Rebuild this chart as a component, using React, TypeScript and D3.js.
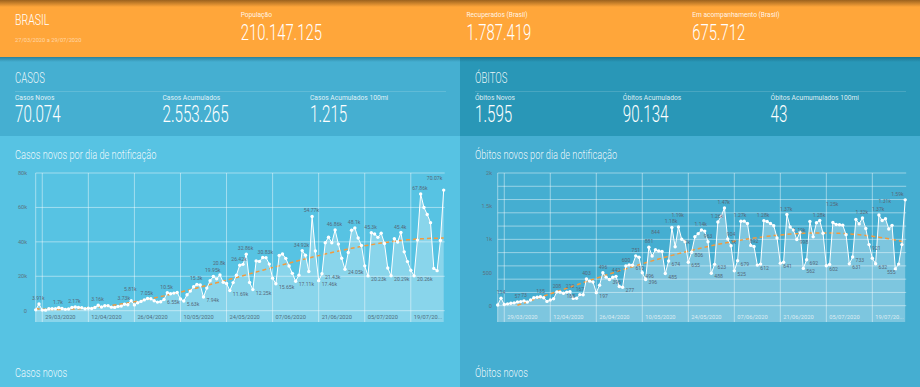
import * as d3 from 'd3'

// dias de notificação: 27/03/2020 a 29/07/2020
const days = d3.timeDay.range(new Date(2020, 2, 27), new Date(2020, 6, 30))

const casosNovos = [
  500, 3910, 350, 320, 1140, 1120, 1210, 1700, 1300, 770,
  1030, 1870, 2170, 1930, 1780, 1090, 1440, 1260, 1830, 3160,
  2110, 2900, 2920, 2060, 1930, 2500, 2680, 3730, 3500, 5810,
  3380, 4610, 5390, 6280, 7050, 6900, 5800, 5000, 5200, 6550,
  10500, 9890, 10220, 10610, 6760, 5630, 9260, 11390, 13940, 15300,
  14920, 7940, 13140, 17410, 19950, 18510, 20800, 16510, 15810, 11690,
  16320, 20600, 26420, 26930, 32860, 16410, 12250, 28940, 28630, 30930,
  30830, 27080, 18910, 15650, 32090, 32910, 30410, 25980, 21700, 17110,
  20650, 34920, 32190, 22770, 54770, 34670, 17460, 21430, 39440, 42730,
  39480, 46860, 38690, 30480, 24050, 33850, 46710, 48100, 42220, 37920,
  26050, 20230, 45300, 44570, 42620, 45050, 39020, 24830, 20290, 41860,
  39920, 45400, 34180, 28530, 23530, 20260, 41010, 67860, 59960, 55890,
  51150, 24580, 23280, 40820, 70074,
]

const obitosNovos = [
  10, 114, 18, 28, 38, 42, 57, 62, 73, 55,
  85, 120, 128, 135, 120, 65, 85, 105, 208, 204,
  188, 205, 212, 110, 113, 167, 165, 403, 370, 358,
  197, 310, 496, 430, 396, 428, 442, 290, 277, 600,
  615, 610, 751, 730, 496, 396, 881, 749, 844, 824,
  816, 485, 674, 1179, 888, 1188, 1001, 965, 655, 806,
  1039, 1086, 1140, 1124, 963, 488, 623, 1262, 1349, 1473,
  1005, 904, 525, 679, 1272, 1274, 1239, 909, 892, 612,
  627, 1282, 1269, 1238, 1206, 1022, 641, 654, 1374, 1186,
  1141, 998, 1109, 562, 692, 1270, 1038, 1252, 1284, 1091,
  602, 620, 1254, 1223, 1220, 1214, 1071, 631, 733, 1300,
  1233, 1322, 1163, 921, 716, 632, 1367, 1284, 1311, 1156,
  1211, 555, 627, 921, 1595,
]

// pontos com rótulo
const casosLabelIdx = [1, 7, 12, 19, 27, 29, 34, 39, 40, 45, 49, 51, 54, 56, 59, 62, 64, 66, 70, 73, 79, 81, 84, 86, 87, 91, 94, 97, 101, 102, 108, 111, 115, 117, 124]
const obitosLabelIdx = [1, 6, 8, 13, 18, 20, 22, 25, 27, 30, 32, 34, 36, 38, 39, 41, 42, 44, 45, 46, 48, 51, 52, 53, 55, 56, 58, 59, 62, 64, 65, 66, 67, 69, 70, 71, 72, 73, 74, 78, 79, 81, 86, 88, 89, 91, 93, 94, 98, 100, 102, 107, 108, 111, 113, 115, 116, 118, 121, 124]

const xTickDates = ['29/03/2020', '12/04/2020', '26/04/2020', '10/05/2020', '24/05/2020', '07/06/2020', '21/06/2020', '05/07/2020', '19/07/2020']

const headerLabels = ['População', 'Recuperados (Brasil)', 'Em acompanhamento (Brasil)']
const headerValues = ['210.147.125', '1.787.419', '675.712']

const casosStatLabels = ['Casos Novos', 'Casos Acumulados', 'Casos Acumulados 100mi']
const casosStatValues = ['70.074', '2.553.265', '1.215']
const obitosStatLabels = ['Óbitos Novos', 'Óbitos Acumulados', 'Óbitos Acumumulados 100mi']
const obitosStatValues = ['1.595', '90.134', '43']

const parseTick = d3.timeParse('%d/%m/%Y')

//least squares polynomial trend
function polyTrend(ys: number[], deg: number) {
  const n = ys.length
  const xs = ys.map((_, i) => i / (n - 1))
  const m = deg + 1
  const A = Array.from({ length: m }, () => new Array(m + 1).fill(0))
  for (let i = 0; i < n; i++) {
    for (let r = 0; r < m; r++) {
      for (let c = 0; c < m; c++) A[r][c] += Math.pow(xs[i], r + c)
      A[r][m] += ys[i] * Math.pow(xs[i], r)
    }
  }
  for (let col = 0; col < m; col++) {
    let piv = col
    for (let r = col + 1; r < m; r++) if (Math.abs(A[r][col]) > Math.abs(A[piv][col])) piv = r
    const tmp = A[col]; A[col] = A[piv]; A[piv] = tmp
    for (let r = 0; r < m; r++) {
      if (r === col) continue
      const f = A[r][col] / A[col][col]
      for (let c = col; c <= m; c++) A[r][c] -= f * A[col][c]
    }
  }
  const coef = A.map((row, i) => row[m] / row[i])
  return xs.map(x => coef.reduce((s, c, k) => s + c * Math.pow(x, k), 0))
}

const fmtLabel = (v: number) => v >= 1000 ? `${parseFloat((v / 1000).toFixed(2))}k` : `${v}`
const fmtTick = (v: number) => v >= 1000 ? `${v / 1000}k` : `${v}`

const Cond = ({ x, y, size, children, fill = '#fff', weight = 300, sx = 0.68 }: any) => (
  <text transform={`translate(${x},${y}) scale(${sx},1)`} fontSize={size} fontWeight={weight}
    fill={fill} fontFamily="Roboto">{children}</text>
)

type ChartProps = {
  values: number[]
  labelIdx: number[]
  x0: number
  x1: number
  yTop: number
  yZero: number
  yBottom: number
  max: number
  gridCount: number
  yLabelX: number
  dateColor: string
}

const LABEL_SIZE = 5.8
const LABEL_SX = 0.88

const LineChart = ({ values, labelIdx, x0, x1, yTop, yZero, yBottom, max, gridCount, yLabelX, dateColor }: ChartProps) => {
  const x = d3.scaleTime().domain([days[0], days[days.length - 1]]).range([x0, x1])
  const y = d3.scaleLinear().domain([0, max]).range([yZero, yTop])
  const right = x1 + 1
  const gridColor = 'rgba(255,255,255,0.45)'

  const area = d3.area<number>()
    .x((_, i) => x(days[i]))
    .y0(yBottom)
    .y1(d => y(d))
  const line = d3.line<number>()
    .x((_, i) => x(days[i]))
    .y(d => y(d))
  const trend = polyTrend(values, 3)
  const trendLine = d3.line<number>()
    .defined(d => d >= 0)
    .x((_, i) => x(days[i]))
    .y(d => y(d))

  //place labels, nudging the ones that collide
  const placed: { x0: number; x1: number; y0: number; y1: number }[] = []
  const labels = labelIdx.map(i => {
    const v = values[i]
    const prev = values[Math.max(0, i - 1)]
    const next = values[Math.min(values.length - 1, i + 1)]
    const top = v >= (prev + next) / 2
    const px = x(days[i])
    const py = y(v)
    const txt = fmtLabel(v)
    const w = txt.length * LABEL_SIZE * 0.55 * LABEL_SX
    let lx = top ? px - w / 2 : px + 3
    if (lx + w > right) lx = px - w
    let ly = top ? py - 4 : py + 5
    for (let k = 0; k < 4; k++) {
      const hit = placed.some(b => lx < b.x1 && lx + w > b.x0 && ly - 4.5 < b.y1 && ly > b.y0)
      if (!hit) break
      ly += top ? -6 : 6
    }
    placed.push({ x0: lx, x1: lx + w, y0: ly - 4.5, y1: ly })
    return { i, lx, ly, txt }
  })

  return (
    <g>
      <path d={area(values) || ''} fill="rgba(255,255,255,0.3)" />
      {y.ticks(gridCount).map(t => (
        <line key={'h' + t} x1={x0} x2={right} y1={y(t)} y2={y(t)} stroke={gridColor} strokeWidth={1} />
      ))}
      <line x1={x0} x2={x0} y1={yTop} y2={yBottom} stroke={gridColor} strokeWidth={1} />
      {xTickDates.map(s => {
        const xx = x(parseTick(s) as Date)
        const txt = xx + 3 + 33 > right ? s.slice(0, 8) + '...' : s
        return (
          <g key={s}>
            <line x1={xx} x2={xx} y1={yTop} y2={yBottom} stroke={gridColor} strokeWidth={1} />
            <text x={xx + 3} y={318.5} fontSize={5.7} fill={dateColor} fontFamily="Roboto">{txt}</text>
          </g>
        )
      })}
      {y.ticks(4).map(t => (
        <text key={'l' + t} x={yLabelX} y={y(t) + 2} fontSize={5.6} fill="#5b7482" textAnchor="end" fontFamily="Roboto">{fmtTick(t)}</text>
      ))}
      <path d={trendLine(trend) || ''} fill="none" stroke="#F39A3C" strokeWidth={1.5} strokeDasharray="4 3" />
      <path d={line(values) || ''} fill="none" stroke="#fff" strokeWidth={1} />
      {values.map((v, i) => (
        <circle key={i} cx={x(days[i])} cy={y(v)} r={1.7} fill="#fff" />
      ))}
      {labels.map(l => (
        <text key={l.i} transform={`translate(${l.lx},${l.ly}) scale(${LABEL_SX},1)`} fontSize={LABEL_SIZE}
          fill="#56697a" fontFamily="Roboto">{l.txt}</text>
      ))}
    </g>
  )
}

const App = () => {
  return (
    <div>
      <style>{'body{margin:0}'}</style>
      <svg width={920} height={387} style={{ display: 'block' }}>
        <defs>
          <linearGradient id="topShade" x1="0" y1="0" x2="0" y2="1">
            <stop offset="0" stopColor="#7a4b14" stopOpacity={0.75} />
            <stop offset="1" stopColor="#7a4b14" stopOpacity={0} />
          </linearGradient>
          <linearGradient id="dropShade" x1="0" y1="0" x2="0" y2="1">
            <stop offset="0" stopColor="#0d4a5c" stopOpacity={0.45} />
            <stop offset="1" stopColor="#0d4a5c" stopOpacity={0} />
          </linearGradient>
        </defs>

        {/* panels */}
        <rect x={0} y={57} width={460} height={79} fill="#45AFD1" />
        <rect x={0} y={136} width={460} height={251} fill="#57C3E3" />
        <rect x={460} y={57} width={460} height={79} fill="#2997B7" />
        <rect x={460} y={136} width={460} height={251} fill="#45AED1" />
        <rect x={0} y={57} width={920} height={5} fill="url(#dropShade)" />

        {/* header */}
        <rect x={0} y={0} width={920} height={57} fill="#FFA63A" />
        <rect x={0} y={0} width={920} height={7} fill="url(#topShade)" />
        <Cond x={15} y={25} size={15.5}>BRASIL</Cond>
        <text x={15} y={42} fontSize={5.7} fill="rgba(255,255,255,0.55)" fontFamily="Roboto">27/03/2020 a 29/07/2020</text>
        {headerLabels.map((l, i) => (
          <g key={l}>
            <text x={240.7 + 225.8 * i} y={16.6} fontSize={6.6} fill="rgba(255,255,255,0.9)" fontFamily="Roboto">{l}</text>
            <Cond x={240.7 + 225.8 * i} y={39.5} size={22} sx={0.675}>{headerValues[i]}</Cond>
          </g>
        ))}

        {/* casos */}
        <Cond x={15} y={83.3} size={14} fill="rgba(255,255,255,0.9)">CASOS</Cond>
        <line x1={15} x2={446} y1={91.5} y2={91.5} stroke="rgba(255,255,255,0.15)" />
        {casosStatLabels.map((l, i) => (
          <g key={l}>
            <text x={15 + 147.5 * i} y={100.3} fontSize={6.7} fill="rgba(255,255,255,0.85)" fontFamily="Roboto">{l}</text>
            <Cond x={15 + 147.5 * i} y={122.3} size={23} sx={0.66}>{casosStatValues[i]}</Cond>
          </g>
        ))}
        <Cond x={15} y={159} size={13.6} fill="rgba(255,255,255,0.9)">Casos novos por dia de notificação</Cond>
        <LineChart values={casosNovos} labelIdx={casosLabelIdx} x0={35.7} x1={443.7} yTop={173} yZero={310.7}
          yBottom={322} max={80000} gridCount={4} yLabelX={27} dateColor="#4f6f80" />
        <Cond x={15} y={377} size={13.6} fill="rgba(255,255,255,0.9)">Casos novos</Cond>

        {/* óbitos */}
        <Cond x={475} y={83.3} size={14} fill="rgba(255,255,255,0.9)">ÓBITOS</Cond>
        <line x1={475} x2={906} y1={91.5} y2={91.5} stroke="rgba(255,255,255,0.15)" />
        {obitosStatLabels.map((l, i) => (
          <g key={l}>
            <text x={475 + 147.8 * i} y={100.3} fontSize={6.7} fill="rgba(255,255,255,0.85)" fontFamily="Roboto">{l}</text>
            <Cond x={475 + 147.8 * i} y={122.3} size={23} sx={0.66}>{obitosStatValues[i]}</Cond>
          </g>
        ))}
        <Cond x={475} y={159} size={13.6} fill="rgba(255,255,255,0.9)">Óbitos novos por dia de notificação</Cond>
        <LineChart values={obitosNovos} labelIdx={obitosLabelIdx} x0={497.7} x1={905.2} yTop={173} yZero={305.7}
          yBottom={322} max={2000} gridCount={8} yLabelX={492} dateColor="#dfecf2" />
        <Cond x={475} y={377} size={13.6} fill="rgba(255,255,255,0.9)">Óbitos novos</Cond>
      </svg>
    </div>
  )
}

export default App
